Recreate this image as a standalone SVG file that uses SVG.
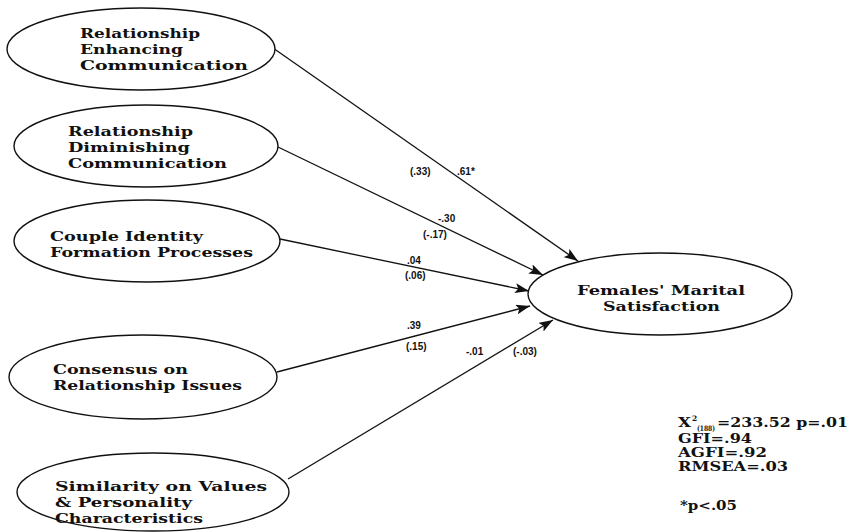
<svg xmlns="http://www.w3.org/2000/svg" width="855" height="532" viewBox="0 0 855 532">
  <style>
    .node ellipse { fill: #fff; stroke: #111; stroke-width: 1.4; }
    .node text { font-family: "DejaVu Serif", "Liberation Serif", serif; font-weight: bold; font-size: 13.5px; fill: #111; }
    .edges line { stroke: #111; stroke-width: 1.3; marker-end: url(#head); }
    .coef { font-family: "Liberation Sans", Arial, sans-serif; font-weight: bold; font-size: 10px; fill: #111; }
    .fit text { font-family: "DejaVu Serif", "Liberation Serif", serif; font-weight: bold; font-size: 12px; fill: #111; }
    .fit text.sm { font-size: 7.5px; }
  </style>
  <defs>
    <marker id="head" viewBox="0 0 14 10" refX="14" refY="5" markerWidth="14" markerHeight="10" markerUnits="userSpaceOnUse" orient="auto">
      <path d="M0,0 L14,5 L0,10 L3,5 Z" fill="#111"/>
    </marker>
  </defs>

  <rect width="855" height="532" fill="#fff"/>

  <!-- paths from the predictors to the outcome -->
  <g class="edges">
    <line x1="273" y1="48" x2="578" y2="261"/>
    <line x1="278" y1="147" x2="543" y2="275"/>
    <line x1="280" y1="239" x2="529" y2="291"/>
    <line x1="277" y1="372" x2="530" y2="306"/>
    <line x1="288" y1="479" x2="553" y2="320"/>
  </g>

  <!-- path coefficients -->
  <g class="coef">
    <text x="410" y="175">(.33)</text>
    <text x="457" y="175">.61*</text>
    <text x="438" y="222">-.30</text>
    <text x="423" y="238">(-.17)</text>
    <text x="407" y="264">.04</text>
    <text x="405" y="279">(.06)</text>
    <text x="407" y="329">.39</text>
    <text x="406" y="350">(.15)</text>
    <text x="466" y="355">-.01</text>
    <text x="513" y="355">(-.03)</text>
  </g>

  <g id="rec" class="node">
    <ellipse cx="141" cy="49" rx="134" ry="41"/>
    <text x="80" y="38" textLength="120" lengthAdjust="spacingAndGlyphs">Relationship</text>
    <text x="80" y="54" textLength="103" lengthAdjust="spacingAndGlyphs">Enhancing</text>
    <text x="80" y="70" textLength="168" lengthAdjust="spacingAndGlyphs">Communication</text>
  </g>

  <g id="rdc" class="node">
    <ellipse cx="146" cy="146" rx="132" ry="41"/>
    <text x="68" y="136" textLength="125" lengthAdjust="spacingAndGlyphs">Relationship</text>
    <text x="68" y="152" textLength="122" lengthAdjust="spacingAndGlyphs">Diminishing</text>
    <text x="68" y="168" textLength="159" lengthAdjust="spacingAndGlyphs">Communication</text>
  </g>

  <g id="cifp" class="node">
    <ellipse cx="147" cy="241" rx="133" ry="41"/>
    <text x="50" y="241" textLength="153" lengthAdjust="spacingAndGlyphs">Couple Identity</text>
    <text x="50" y="257" textLength="203" lengthAdjust="spacingAndGlyphs">Formation Processes</text>
  </g>

  <g id="cri" class="node">
    <ellipse cx="143" cy="377" rx="134" ry="42"/>
    <text x="53" y="374" textLength="135" lengthAdjust="spacingAndGlyphs">Consensus on</text>
    <text x="53" y="390" textLength="189" lengthAdjust="spacingAndGlyphs">Relationship Issues</text>
  </g>

  <g id="svpc" class="node">
    <ellipse cx="153" cy="492" rx="136" ry="39"/>
    <text x="55" y="491" textLength="212" lengthAdjust="spacingAndGlyphs">Similarity on Values</text>
    <text x="55" y="507" textLength="137" lengthAdjust="spacingAndGlyphs">&amp; Personality</text>
    <text x="55" y="523" textLength="148" lengthAdjust="spacingAndGlyphs">Characteristics</text>
  </g>

  <g id="fms" class="node">
    <ellipse cx="660" cy="294" rx="132" ry="41"/>
    <text x="577" y="295" textLength="168" lengthAdjust="spacingAndGlyphs">Females' Marital</text>
    <text x="603" y="311" textLength="117" lengthAdjust="spacingAndGlyphs">Satisfaction</text>
  </g>

  <!-- model fit -->
  <g class="fit">
    <text x="678" y="427" textLength="13" lengthAdjust="spacingAndGlyphs">X</text>
    <text class="sm" x="692" y="421">2</text>
    <text class="sm" x="697" y="431" textLength="18" lengthAdjust="spacingAndGlyphs">(188)</text>
    <text x="717" y="427" textLength="131" lengthAdjust="spacingAndGlyphs">=233.52 p=.01</text>
    <text x="678" y="443" textLength="74" lengthAdjust="spacingAndGlyphs">GFI=.94</text>
    <text x="678" y="457" textLength="89" lengthAdjust="spacingAndGlyphs">AGFI=.92</text>
    <text x="678" y="471" textLength="110" lengthAdjust="spacingAndGlyphs">RMSEA=.03</text>
    <text x="680" y="510" textLength="57" lengthAdjust="spacingAndGlyphs">*p&lt;.05</text>
  </g>
</svg>
